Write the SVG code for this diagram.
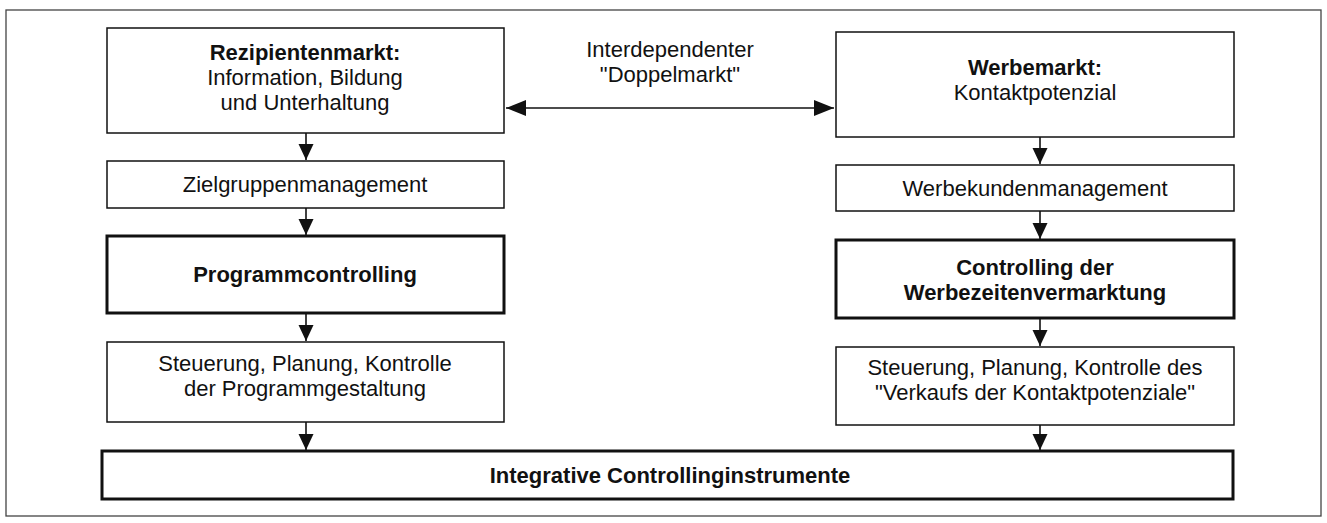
<svg xmlns="http://www.w3.org/2000/svg" width="1327" height="523" viewBox="0 0 1327 523">
  <style>
    .box { fill: #ffffff; stroke: #111111; stroke-width: 1.5; }
    .thick { fill: #ffffff; stroke: #111111; stroke-width: 3; }
    .frame { fill: none; stroke: #444444; stroke-width: 1.3; }
    .t { font-family: "Liberation Sans", Arial, sans-serif; font-size: 22px; fill: #111111; text-anchor: middle; }
    .b { font-weight: bold; }
    .conn { stroke: #111111; stroke-width: 1.6; fill: none; }
  </style>
  <defs>
    <marker id="ah" markerUnits="userSpaceOnUse" markerWidth="18" markerHeight="16" refX="16" refY="7.5" orient="auto-start-reverse">
      <path d="M0,0 L16,7.5 L0,15 Z" fill="#111111"/>
    </marker>
    <marker id="ah2" markerUnits="userSpaceOnUse" markerWidth="22" markerHeight="18" refX="20" refY="8" orient="auto-start-reverse">
      <path d="M0,0 L20,8 L0,16 Z" fill="#111111"/>
    </marker>
  </defs>
  <rect width="1327" height="523" fill="#ffffff"/>
  <rect class="frame" x="6" y="10" width="1315" height="506"/>

  <g id="rezipientenmarkt">
    <rect class="box" x="107" y="28" width="397" height="105"/>
    <text class="t b" x="305" y="60">Rezipientenmarkt:</text>
    <text class="t" x="305" y="85">Information, Bildung</text>
    <text class="t" x="305" y="110">und Unterhaltung</text>
  </g>
  <g id="doppelmarkt-label">
    <text class="t" x="670" y="57">Interdependenter</text>
    <text class="t" x="670" y="82">"Doppelmarkt"</text>
  </g>
  <g id="werbemarkt">
    <rect class="box" x="836" y="32" width="398" height="105"/>
    <text class="t b" x="1035" y="75">Werbemarkt:</text>
    <text class="t" x="1035" y="100">Kontaktpotenzial</text>
  </g>
  <g id="zielgruppenmanagement">
    <rect class="box" x="107" y="161" width="397" height="47"/>
    <text class="t" x="305" y="192">Zielgruppenmanagement</text>
  </g>
  <g id="werbekundenmanagement">
    <rect class="box" x="836" y="165" width="398" height="46"/>
    <text class="t" x="1035" y="196">Werbekundenmanagement</text>
  </g>
  <g id="programmcontrolling">
    <rect class="thick" x="107" y="236" width="397" height="77"/>
    <text class="t b" x="305" y="282">Programmcontrolling</text>
  </g>
  <g id="controlling-werbezeiten">
    <rect class="thick" x="836" y="240" width="398" height="78"/>
    <text class="t b" x="1035" y="275">Controlling der</text>
    <text class="t b" x="1035" y="300">Werbezeitenvermarktung</text>
  </g>
  <g id="steuerung-programm">
    <rect class="box" x="107" y="342" width="397" height="80"/>
    <text class="t" x="305" y="371">Steuerung, Planung, Kontrolle</text>
    <text class="t" x="305" y="396">der Programmgestaltung</text>
  </g>
  <g id="steuerung-kontakt">
    <rect class="box" x="836" y="347" width="398" height="78"/>
    <text class="t" x="1035" y="375">Steuerung, Planung, Kontrolle des</text>
    <text class="t" x="1035" y="400">"Verkaufs der Kontaktpotenziale"</text>
  </g>
  <g id="integrative">
    <rect class="thick" x="102" y="451" width="1131" height="48"/>
    <text class="t b" x="670" y="483">Integrative Controllinginstrumente</text>
  </g>

  <g id="connectors">
    <line class="conn" x1="506" y1="108" x2="834" y2="108" marker-start="url(#ah2)" marker-end="url(#ah2)"/>
    <line class="conn" x1="306" y1="133" x2="306" y2="160" marker-end="url(#ah)"/>
    <line class="conn" x1="306" y1="208" x2="306" y2="235" marker-end="url(#ah)"/>
    <line class="conn" x1="306" y1="313" x2="306" y2="341" marker-end="url(#ah)"/>
    <line class="conn" x1="306" y1="422" x2="306" y2="450" marker-end="url(#ah)"/>
    <line class="conn" x1="1040" y1="137" x2="1040" y2="164" marker-end="url(#ah)"/>
    <line class="conn" x1="1040" y1="211" x2="1040" y2="239" marker-end="url(#ah)"/>
    <line class="conn" x1="1040" y1="318" x2="1040" y2="346" marker-end="url(#ah)"/>
    <line class="conn" x1="1040" y1="425" x2="1040" y2="450" marker-end="url(#ah)"/>
  </g>
</svg>
